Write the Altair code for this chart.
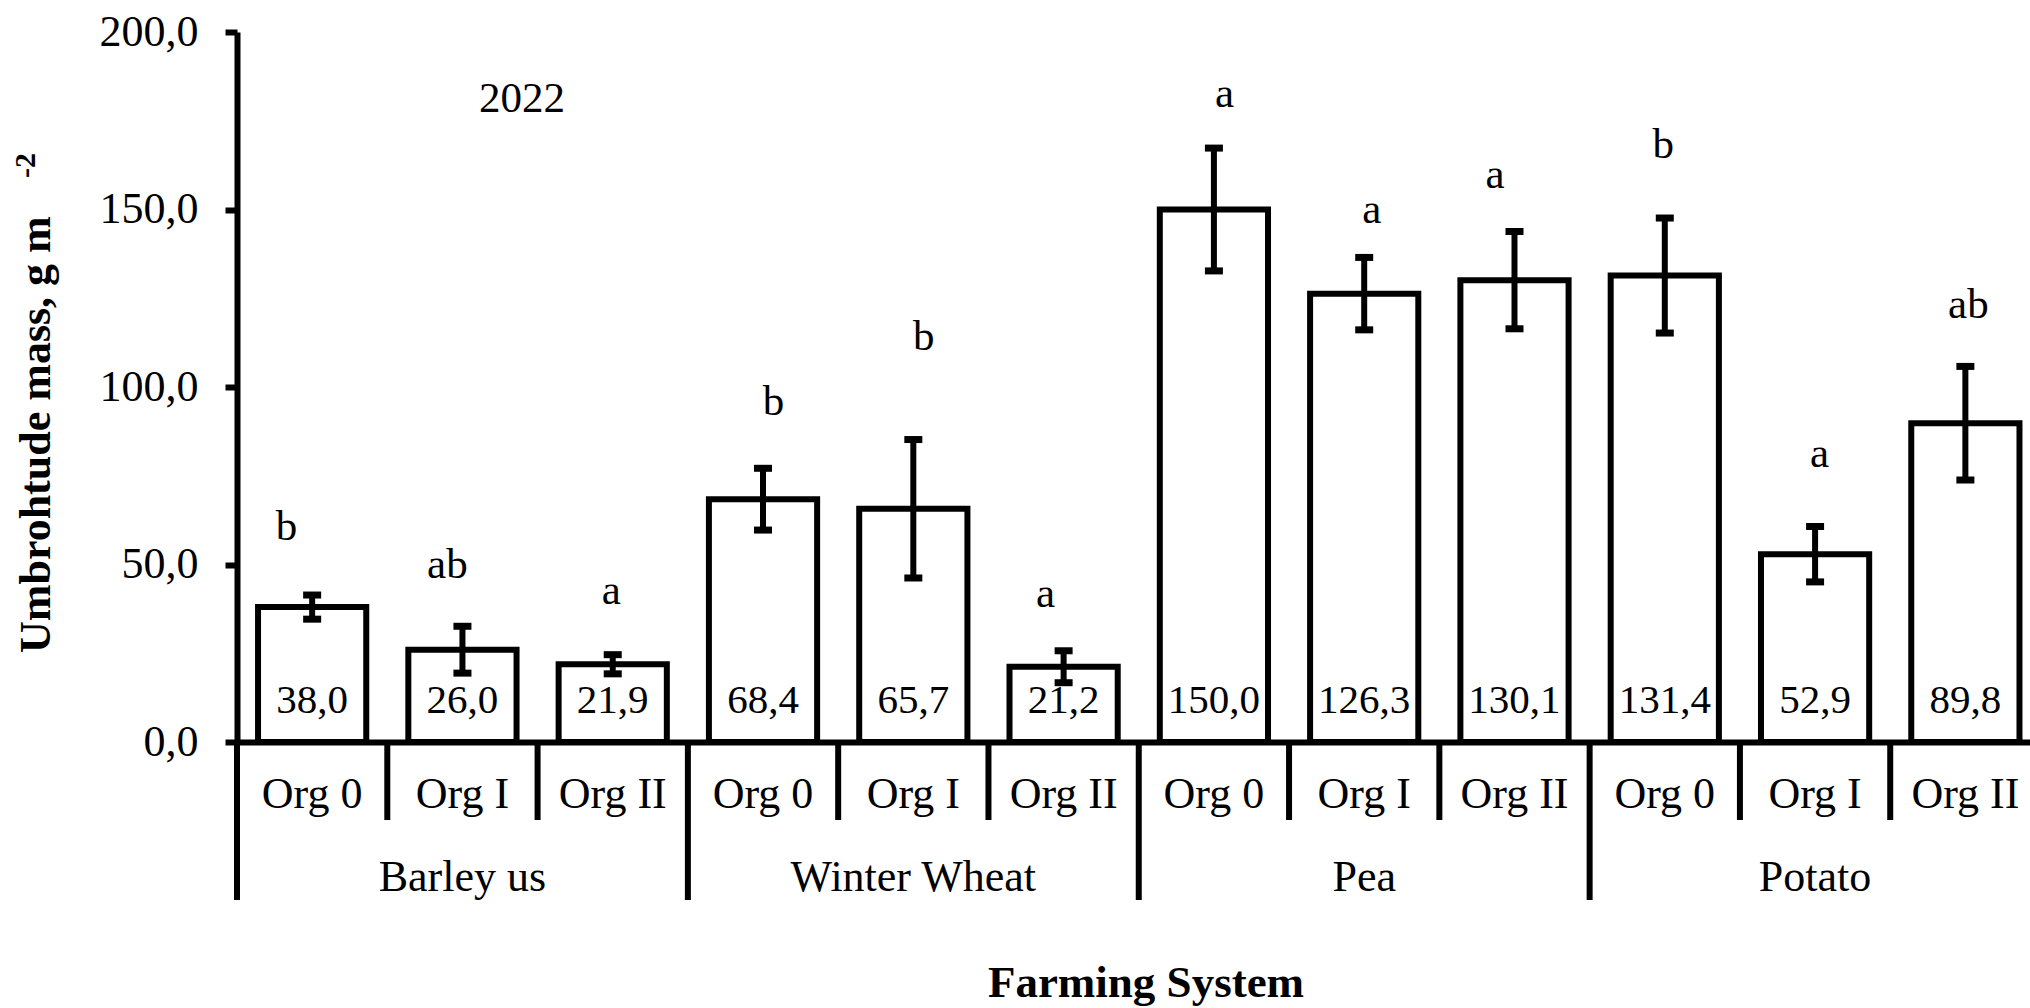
import altair as alt
import pandas as pd

# --- data -------------------------------------------------------------------
crops = ["Barley us", "Winter Wheat", "Pea", "Potato"]
systems = ["Org 0", "Org I", "Org II"]

# mean umbrohtude mass per crop x farming system, g m-2
mass = [38.0, 26.0, 21.9, 68.4, 65.7, 21.2, 150.0, 126.3, 130.1, 131.4, 52.9, 89.8]
# half-length of the error bars, g m-2
mass_err = [3.4, 6.6, 2.7, 8.7, 19.5, 4.5, 17.3, 10.2, 13.7, 16.2, 7.8, 16.0]
# significance letters
letters = ["b", "ab", "a", "b", "b", "a", "a", "a", "a", "b", "a", "ab"]

# where each significance letter sits (baseline height, g m-2) and its
# sideways nudge from the bar centre (fraction of one bar slot)
letter_height = [56.9, 46.2, 38.9, 92.1, 110.4, 38.1, 179.0, 146.1, 156.0, 164.4, 77.4, 119.4]
letter_shift = [-0.17, -0.10, -0.01, 0.07, 0.07, -0.12, 0.07, 0.05, -0.13, -0.01, 0.03, 0.02]

year = "2022"

# --- tables -----------------------------------------------------------------
rows = []
for i, v in enumerate(mass):
    rows.append({
        "crop": crops[i // 3],
        "system": systems[i % 3],
        "slot": i,
        "left": i + 0.14,
        "right": i + 0.86,
        "center": i + 0.5,
        "value": v,
        "value_label": f"{v:.1f}".replace(".", ","),
        "lo": v - mass_err[i],
        "hi": v + mass_err[i],
        "letter": letters[i],
        "letter_x": i + 0.5 + letter_shift[i],
        "letter_y": letter_height[i],
    })
df = pd.DataFrame(rows)

n_slots = len(mass)
minor_sep = pd.DataFrame({"pos": [k for k in range(1, n_slots) if k % 3 != 0]})
major_sep = pd.DataFrame({"pos": [k for k in range(0, n_slots) if k % 3 == 0]})
groups = pd.DataFrame({"crop": crops, "center": [3 * k + 1.5 for k in range(len(crops))]})

FONT = "Liberation Serif"
PLOT_W, PLOT_H = 1793, 710

x_scale = alt.Scale(domain=[0, 11.93], nice=False, zero=False)
y_scale = alt.Scale(domain=[0, 200], nice=False)

y_axis = alt.Axis(
    values=[0, 50, 100, 150, 200],
    labelExpr="replace(format(datum.value, '.1f'), '.', ',')",
    labelFont=FONT, labelFontSize=44, labelColor="black", labelPadding=27,
    tickSize=12, tickWidth=6, tickColor="black",
    domainColor="black", domainWidth=6, grid=False, title=None,
)
x_axis = alt.Axis(
    domain=True, domainColor="black", domainWidth=6,
    ticks=False, labels=False, grid=False, title=None,
)

base = alt.Chart(df)

bars = base.mark_bar(
    fill="white", stroke="black", strokeWidth=6, opacity=1, strokeJoin="miter"
).encode(
    x=alt.X("left:Q", scale=x_scale, axis=x_axis, title=None),
    x2="right:Q",
    y=alt.Y("value:Q", scale=y_scale, axis=y_axis, title=None),
    y2=alt.datum(0),
)

whisker = base.mark_rule(color="black", strokeWidth=6).encode(
    x=alt.X("center:Q", title=None), y=alt.Y("lo:Q", title=None), y2="hi:Q"
)
cap_hi = base.mark_tick(orient="horizontal", size=18, thickness=7, color="black", opacity=1).encode(
    x=alt.X("center:Q", title=None), y=alt.Y("hi:Q", title=None)
)
cap_lo = base.mark_tick(orient="horizontal", size=18, thickness=7, color="black", opacity=1).encode(
    x=alt.X("center:Q", title=None), y=alt.Y("lo:Q", title=None)
)

values_text = base.mark_text(
    font=FONT, fontSize=41, color="black", baseline="alphabetic", dy=-29
).encode(
    x=alt.X("center:Q", title=None), y=alt.datum(0), text="value_label:N"
)

letters_text = base.mark_text(
    font=FONT, fontSize=43, color="black", baseline="alphabetic"
).encode(
    x=alt.X("letter_x:Q", title=None), y=alt.Y("letter_y:Q", title=None), text="letter:N"
)

# category axis drawn underneath the plot: system labels, crop labels, dividers
system_text = base.mark_text(
    font=FONT, fontSize=44, color="black", baseline="alphabetic"
).encode(
    x=alt.X("center:Q", title=None), y=alt.value(776), text="system:N"
)
minor_rules = alt.Chart(minor_sep).mark_rule(color="black", strokeWidth=6).encode(
    x=alt.X("pos:Q", title=None), y=alt.value(PLOT_H), y2=alt.value(788)
)
major_rules = alt.Chart(major_sep).mark_rule(color="black", strokeWidth=6).encode(
    x=alt.X("pos:Q", title=None), y=alt.value(PLOT_H), y2=alt.value(868)
)
crop_text = alt.Chart(groups).mark_text(
    font=FONT, fontSize=44, color="black", baseline="alphabetic"
).encode(
    x=alt.X("center:Q", title=None), y=alt.value(859), text="crop:N"
)

year_text = alt.Chart(pd.DataFrame({"t": [year]})).mark_text(
    font=FONT, fontSize=43, color="black", baseline="alphabetic"
).encode(x=alt.value(285), y=alt.value(80), text="t:N")

y_title = alt.Chart(pd.DataFrame({"t": ["Umbrohtude mass, g m"]})).mark_text(
    font=FONT, fontSize=44, fontWeight="bold", color="black",
    angle=270, align="left", baseline="alphabetic",
).encode(x=alt.value(-187), y=alt.value(621), text="t:N")
y_title_sup = alt.Chart(pd.DataFrame({"t": ["-2"]})).mark_text(
    font=FONT, fontSize=30, fontWeight="bold", color="black",
    angle=270, align="left", baseline="alphabetic",
).encode(x=alt.value(-202), y=alt.value(146), text="t:N")

x_title = alt.Chart(pd.DataFrame({"t": ["Farming System"]})).mark_text(
    font=FONT, fontSize=45, fontWeight="bold", color="black",
    align="center", baseline="alphabetic",
).encode(x=alt.value(909), y=alt.value(965), text="t:N")

chart = alt.layer(
    bars, whisker, cap_hi, cap_lo, values_text, letters_text,
    minor_rules, major_rules, system_text, crop_text,
    year_text, y_title, y_title_sup, x_title,
).properties(
    width=PLOT_W,
    height=PLOT_H,
    autosize=alt.AutoSizeParams(type="none"),
    padding={"left": 237, "top": 32, "right": 0, "bottom": 266},
    background="white",
).configure_view(stroke=None)

chart.save("out.html", embed_options={"renderer": "svg", "actions": False})
